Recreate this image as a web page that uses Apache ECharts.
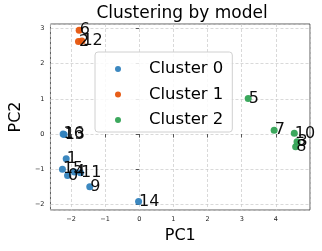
<!DOCTYPE html>
<html><head><meta charset="utf-8">
<script src="https://cdn.jsdelivr.net/npm/echarts@6/dist/echarts.min.js"></script>
<style>html,body{margin:0;padding:0;background:#fff}#c{width:322px;height:251px}</style>
</head><body><div id="c"></div>
<script>
// Cluster 0 points
const c0Ids = ["0","1","4","9","11","13","14","15","16"];
const c0X = [-2.10,-2.14,-1.90,-1.45,-1.72,-2.20,-0.02,-2.25,-2.23];
const c0Y = [-1.18,-0.70,-1.08,-1.50,-1.10,-0.01,-1.92,-1.00,0.00];
// Cluster 1 points
const c1Ids = ["2","6","12"];
const c1X = [-1.78,-1.76,-1.68];
const c1Y = [2.63,2.95,2.65];
// Cluster 2 points
const c2Ids = ["3","5","7","8","10"];
const c2X = [4.62,3.19,3.95,4.58,4.54];
const c2Y = [-0.22,1.01,0.11,-0.36,0.02];
const seriesNames = ["Cluster 0","Cluster 1","Cluster 2"];
const colors = ["#3182bd","#e6550d","#31a354"];

const FONT = "DejaVu Sans";
function mk(ids,xs,ys){return ids.map((id,i)=>({value:[xs[i],ys[i]],name:id}));}
const groups=[mk(c0Ids,c0X,c0Y),mk(c1Ids,c1X,c1Y),mk(c2Ids,c2X,c2Y)];
const fmt=v=>String(v).replace('-','\u2212');
const chart=echarts.init(document.getElementById('c'),null,{renderer:'canvas'});
chart.setOption({
  animation:false,
  title:{text:'Clustering by model',left:177,top:0,textAlign:'center',
    textStyle:{fontFamily:FONT,fontSize:17,fontWeight:'normal',color:'#000'}},
  grid:{left:44,right:12,top:24,bottom:41,show:true,borderColor:'#333',borderWidth:0.8,backgroundColor:'transparent'},
  xAxis:{type:'value',min:-2.6,max:5.0,splitNumber:8,
    name:'PC1',nameLocation:'middle',nameGap:17,
    nameTextStyle:{fontFamily:FONT,fontSize:16,color:'#000'},
    axisLine:{show:false},
    axisTick:{show:true,length:3.5,lineStyle:{color:'#333',width:0.8}},
    axisLabel:{fontFamily:FONT,fontSize:6.5,color:'#222',margin:6,showMinLabel:false,showMaxLabel:false,formatter:fmt},
    splitLine:{show:true,lineStyle:{type:[3,2],color:'#c8c8c8',width:0.7}}},
  yAxis:{type:'value',min:-2.16,max:3.13,splitNumber:5,
    name:'PC2',nameLocation:'middle',nameGap:22,nameRotate:90,
    nameTextStyle:{fontFamily:FONT,fontSize:16,color:'#000'},
    axisLine:{show:false},
    axisTick:{show:true,length:3.5,lineStyle:{color:'#333',width:0.8}},
    axisLabel:{fontFamily:FONT,fontSize:6.5,color:'#222',margin:6,showMinLabel:false,showMaxLabel:false,formatter:fmt},
    splitLine:{show:true,lineStyle:{type:[3,2],color:'#c8c8c8',width:0.7}}},
  legend:{orient:'vertical',left:95,top:52,
    padding:[7,9,2,20],itemGap:5.5,itemWidth:6,itemHeight:6,icon:'circle',
    backgroundColor:'rgba(255,255,255,0.85)',borderColor:'#d0d0d0',borderWidth:1,borderRadius:3,
    formatter:n=>'{t|'+n+'}',
    textStyle:{fontFamily:FONT,fontSize:16.5,color:'#000',lineHeight:20,
      rich:{t:{fontFamily:FONT,fontSize:16.5,color:'#000',lineHeight:20,padding:[0,0,0,23]}}},
    data:seriesNames},
  series:groups.map((g,k)=>({
    type:'scatter',name:seriesNames[k],data:g,symbolSize:7,
    itemStyle:{color:colors[k],opacity:0.95},
    label:{show:true,position:'right',distance:-3,formatter:p=>p.name,
      fontFamily:FONT,fontSize:16,color:'#000'},
    emphasis:{disabled:true}
  }))
});
</script></body></html>
